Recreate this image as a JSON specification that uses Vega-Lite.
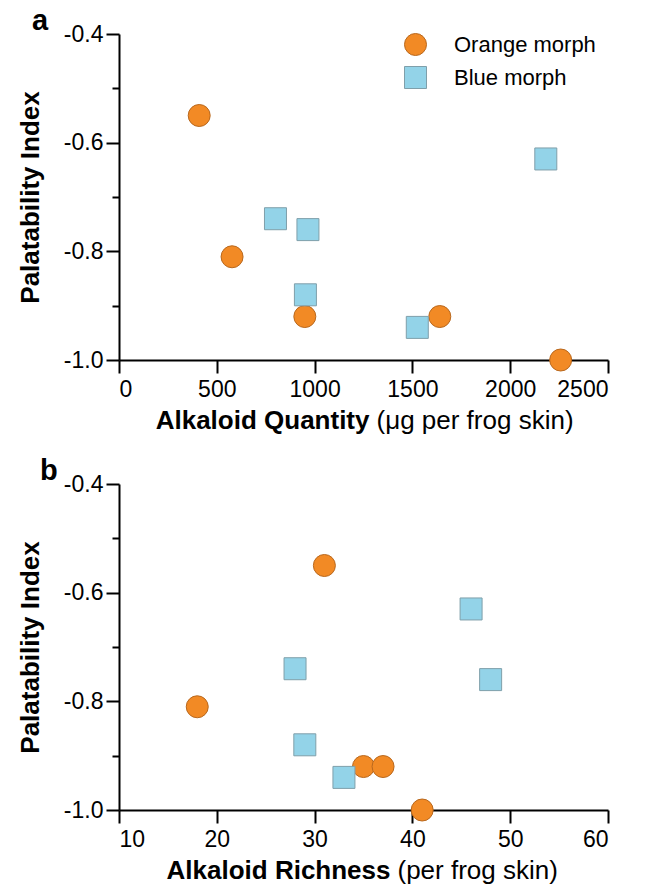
{
  "$schema": "https://vega.github.io/schema/vega-lite/v6.json",
  "background": "white",
  "padding": {"left": 17, "top": 7, "right": 5, "bottom": 5},
  "config": {
    "view": {"stroke": null},
    "font": "Liberation Sans",
    "axis": {
      "domainColor": "black", "domainWidth": 2, "tickColor": "black", "tickWidth": 2, "tickSize": 13,
      "labelFont": "Liberation Sans", "labelFontSize": 23, "labelColor": "black",
      "titleFont": "Liberation Sans", "titleFontSize": 26, "titleColor": "black", "titleFontWeight": "bold",
      "grid": false
    },
    "legend": {"labelFont": "Liberation Sans", "labelFontSize": 22, "labelColor": "black"}
  },
  "data": {
    "values": [
      {"morph": "Orange morph", "quantity": 410, "richness": 31, "palat": -0.55},
      {"morph": "Orange morph", "quantity": 578, "richness": 18, "palat": -0.81},
      {"morph": "Orange morph", "quantity": 950, "richness": 35, "palat": -0.92},
      {"morph": "Orange morph", "quantity": 1640, "richness": 37, "palat": -0.92},
      {"morph": "Orange morph", "quantity": 2258, "richness": 41, "palat": -1.0},
      {"morph": "Blue morph", "quantity": 800, "richness": 28, "palat": -0.74},
      {"morph": "Blue morph", "quantity": 966, "richness": 48, "palat": -0.76},
      {"morph": "Blue morph", "quantity": 953, "richness": 29, "palat": -0.88},
      {"morph": "Blue morph", "quantity": 1525, "richness": 33, "palat": -0.94},
      {"morph": "Blue morph", "quantity": 2182, "richness": 46, "palat": -0.63}
    ]
  },
  "spacing": 24,
  "resolve": {"legend": {"fill": "independent", "shape": "independent", "stroke": "independent"}},
  "vconcat": [
    {
      "width": 489, "height": 326,
      "title": {"text": "a", "anchor": "start", "frame": "group", "fontSize": 29, "fontWeight": "bold", "font": "Liberation Sans", "color": "black", "dx": -87, "baseline": "alphabetic", "offset": -36},
      "layer": [
        {
          "mark": {"type": "point", "filled": true, "size": 484, "strokeWidth": 1, "opacity": 1},
          "encoding": {
            "x": {"field": "quantity", "type": "quantitative", "scale": {"domain": [0, 2500], "nice": false, "zero": false},
                  "axis": {"values": [0, 500, 1000, 1500, 2000, 2500], "title": "Alkaloid Quantity", "titleAlign": "right", "titleAnchor": "start", "titleX": 250, "titleY": 68, "titleBaseline": "alphabetic", "labelPadding": 5, "format": "d"}},
            "y": {"field": "palat", "type": "quantitative", "scale": {"domain": [-1.0, -0.4], "nice": false, "zero": false},
                  "axis": {"title": "Palatability Index", "values": [-1.0, -0.9, -0.8, -0.7, -0.6, -0.5, -0.4],
                           "labelExpr": "round(datum.value*10)%2==0 ? '-' + format(abs(datum.value), '.1f') : ''",
                           "tickSize": {"condition": {"test": "round(datum.value*10)%2==0", "value": 13}, "value": 7},
                           "titlePadding": 20, "labelPadding": 3}},
            "shape": {"field": "morph", "type": "nominal", "scale": {"domain": ["Orange morph", "Blue morph"], "range": ["circle", "square"]},
                      "legend": {"title": null, "orient": "none", "legendX": 285, "legendY": -1, "symbolSize": 484, "symbolStrokeWidth": 1, "rowPadding": 6, "labelOffset": 27, "padding": 0}},
            "fill": {"field": "morph", "type": "nominal", "scale": {"domain": ["Orange morph", "Blue morph"], "range": ["#F28A25", "#93D3E8"]},
                     "legend": {"title": null, "orient": "none", "legendX": 285, "legendY": -1, "symbolSize": 484, "symbolStrokeWidth": 1, "rowPadding": 6, "labelOffset": 27, "padding": 0}},
            "stroke": {"field": "morph", "type": "nominal", "scale": {"domain": ["Orange morph", "Blue morph"], "range": ["#B8681E", "#7F9FAA"]},
                       "legend": {"title": null, "orient": "none", "legendX": 285, "legendY": -1, "symbolSize": 484, "symbolStrokeWidth": 1, "rowPadding": 6, "labelOffset": 27, "padding": 0}}
          }
        },
        {
          "mark": {"type": "point", "opacity": 0},
          "encoding": {
            "x": {"field": "quantity", "type": "quantitative",
                  "axis": {"orient": "bottom", "domain": false, "ticks": false, "labels": false, "title": "(μg per frog skin)", "titleFontWeight": "normal", "titleAlign": "left", "titleAnchor": "start", "titleX": 257, "titleY": 68, "titleBaseline": "alphabetic"}},
            "y": {"field": "palat", "type": "quantitative"}
          }
        }
      ],
      "resolve": {"axis": {"x": "independent"}}
    },
    {
      "width": 489, "height": 326,
      "title": {"text": "b", "anchor": "start", "frame": "group", "fontSize": 29, "fontWeight": "bold", "font": "Liberation Sans", "color": "black", "dx": -79, "baseline": "alphabetic", "offset": -36},
      "layer": [
        {
          "mark": {"type": "point", "filled": true, "size": 484, "strokeWidth": 1, "opacity": 1},
          "encoding": {
            "x": {"field": "richness", "type": "quantitative", "scale": {"domain": [10, 60], "nice": false, "zero": false},
                  "axis": {"values": [10, 20, 30, 40, 50, 60], "title": "Alkaloid Richness", "titleAlign": "right", "titleAnchor": "start", "titleX": 271, "titleY": 68, "titleBaseline": "alphabetic", "labelPadding": 5}},
            "y": {"field": "palat", "type": "quantitative", "scale": {"domain": [-1.0, -0.4], "nice": false, "zero": false},
                  "axis": {"title": "Palatability Index", "values": [-1.0, -0.9, -0.8, -0.7, -0.6, -0.5, -0.4],
                           "labelExpr": "round(datum.value*10)%2==0 ? '-' + format(abs(datum.value), '.1f') : ''",
                           "tickSize": {"condition": {"test": "round(datum.value*10)%2==0", "value": 13}, "value": 7},
                           "titlePadding": 20, "labelPadding": 3}},
            "shape": {"field": "morph", "type": "nominal", "scale": {"domain": ["Orange morph", "Blue morph"], "range": ["circle", "square"]}, "legend": null},
            "fill": {"field": "morph", "type": "nominal", "scale": {"domain": ["Orange morph", "Blue morph"], "range": ["#F28A25", "#93D3E8"]}, "legend": null},
            "stroke": {"field": "morph", "type": "nominal", "scale": {"domain": ["Orange morph", "Blue morph"], "range": ["#B8681E", "#7F9FAA"]}, "legend": null}
          }
        },
        {
          "mark": {"type": "point", "opacity": 0},
          "encoding": {
            "x": {"field": "richness", "type": "quantitative",
                  "axis": {"orient": "bottom", "domain": false, "ticks": false, "labels": false, "title": "(per frog skin)", "titleFontWeight": "normal", "titleAlign": "left", "titleAnchor": "start", "titleX": 278, "titleY": 68, "titleBaseline": "alphabetic"}},
            "y": {"field": "palat", "type": "quantitative"}
          }
        }
      ],
      "resolve": {"axis": {"x": "independent"}}
    }
  ]
}
